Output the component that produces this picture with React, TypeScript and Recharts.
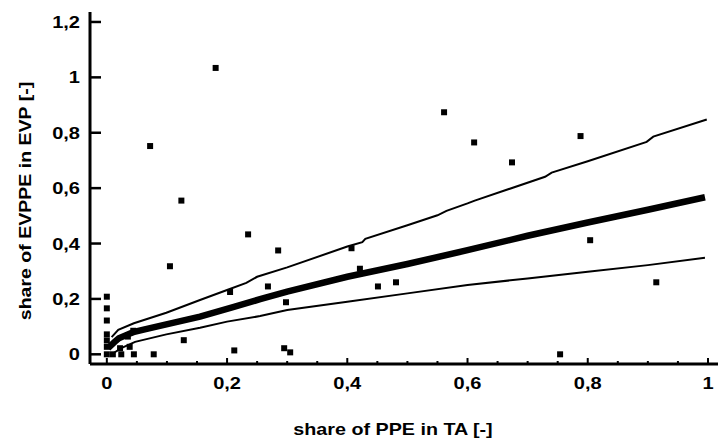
import { ComposedChart, Scatter, Line, XAxis, YAxis, ZAxis, Label } from "recharts";

// observed firms: share of PPE in total assets vs share of EVPPE in EVP
const ppeShare = [
  0.0, 0.0, 0.0, 0.0, 0.0, 0.0, 0.0, 0.01, 0.022, 0.024, 0.035, 0.038, 0.044, 0.045,
  0.072, 0.078, 0.105, 0.124, 0.128, 0.181, 0.205, 0.212, 0.235, 0.268, 0.285, 0.295,
  0.298, 0.305, 0.407, 0.421, 0.451, 0.481, 0.561, 0.611, 0.674, 0.754, 0.788, 0.804, 0.914,
];
const evppeShare = [
  0.208, 0.166, 0.122, 0.072, 0.05, 0.027, 0.0, 0.0, 0.022, 0.0, 0.064, 0.027, 0.085, 0.0,
  0.752, 0.0, 0.318, 0.555, 0.051, 1.034, 0.225, 0.014, 0.433, 0.245, 0.375, 0.022,
  0.188, 0.007, 0.383, 0.309, 0.245, 0.26, 0.874, 0.765, 0.693, 0.0, 0.788, 0.412, 0.26,
];

// fitted curve
const fitX = [0.002, 0.013, 0.02, 0.035, 0.044, 0.063, 0.099, 0.155, 0.21, 0.255, 0.3, 0.4, 0.5, 0.6, 0.7, 0.8, 0.9, 0.995];
const fitY = [0.022, 0.045, 0.058, 0.072, 0.08, 0.09, 0.108, 0.136, 0.17, 0.199, 0.226, 0.28, 0.326, 0.376, 0.428, 0.476, 0.522, 0.567];

// upper band
const upperX = [
  0.008, 0.019, 0.045, 0.099, 0.155, 0.2, 0.232, 0.25, 0.3, 0.4, 0.425, 0.43,
  0.5, 0.55, 0.565, 0.6, 0.612, 0.729, 0.74, 0.8, 0.898, 0.909, 0.998,
];
const upperY = [
  0.062, 0.088, 0.112, 0.15, 0.196, 0.232, 0.258, 0.28, 0.314, 0.389, 0.405, 0.417,
  0.466, 0.502, 0.518, 0.545, 0.555, 0.641, 0.656, 0.697, 0.767, 0.786, 0.848,
];

// lower band
const lowerX = [0.01, 0.024, 0.047, 0.099, 0.155, 0.2, 0.255, 0.3, 0.4, 0.5, 0.6, 0.7, 0.8, 0.9, 0.995];
const lowerY = [0.003, 0.022, 0.045, 0.072, 0.096, 0.118, 0.138, 0.16, 0.19, 0.22, 0.25, 0.274, 0.298, 0.322, 0.349];

const xTicks = [0, 0.05, 0.1, 0.15, 0.2, 0.25, 0.3, 0.35, 0.4, 0.45, 0.5, 0.55, 0.6, 0.65, 0.7, 0.75, 0.8, 0.85, 0.9, 0.95, 1];
const yTicks = [0, 0.2, 0.4, 0.6, 0.8, 1, 1.2];

const zip = (xs: number[], ys: number[]) => xs.map((x, i) => ({ x, y: ys[i] }));
const points = zip(ppeShare, evppeShare);
const fit = zip(fitX, fitY);
const upper = zip(upperX, upperY);
const lower = zip(lowerX, lowerY);

const textStyle = { fontFamily: "'Liberation Sans', Arial, sans-serif", fontWeight: 700, fontSize: 17 };
const fmt = (v: number) => String(Math.round(v * 100) / 100).replace(".", ",");
const isMajor = (v: number) => Math.abs(v * 5 - Math.round(v * 5)) < 1e-6;

const BottomTick = ({ x, y, payload }: any) => {
  const major = isMajor(payload.value);
  return (
    <g>
      <line x1={x} x2={x} y1={y} y2={y - (major ? 6 : 3)} stroke="#000" strokeWidth={2} />
      {major && (
        <text transform={`translate(${x},${y + 25}) scale(1.18,1)`} textAnchor="middle" style={textStyle} fill="#000">
          {fmt(payload.value)}
        </text>
      )}
    </g>
  );
};

const TopTick = ({ x, y, payload }: any) => {
  const major = isMajor(payload.value);
  return <line x1={x} x2={x} y1={y} y2={y + (major ? 6 : 3)} stroke="#000" strokeWidth={2} />;
};

const LeftTick = ({ x, y, payload }: any) => (
  <g>
    <line x1={x} x2={x + 11} y1={y} y2={y} stroke="#000" strokeWidth={2.5} />
    <text transform={`translate(${x - 10},${y + 6}) scale(1.18,1)`} textAnchor="end" style={textStyle} fill="#000">
      {fmt(payload.value)}
    </text>
  </g>
);

const RightTick = ({ x, y }: any) => (
  <line x1={x} x2={x - 7} y1={y} y2={y} stroke="#000" strokeWidth={2.5} />
);

const XTitle = () => (
  <text transform="translate(393,435) scale(1.16,1)" textAnchor="middle" style={textStyle} fill="#000">
    share of PPE in TA [-]
  </text>
);

const YTitle = () => (
  <text transform="translate(31,201) rotate(-90) scale(1.15,1)" textAnchor="middle" style={textStyle} fill="#000">
    share of EVPPE in EVP [-]
  </text>
);

const axisLine = { stroke: "#000", strokeWidth: 3 };

export default function App() {
  return (
    <div style={{ position: "absolute", left: 0, top: 0, width: 718, height: 441, overflow: "hidden", background: "#fff" }}>
      <ComposedChart width={730} height={441} margin={{ top: 12, right: 10, bottom: 0, left: 0 }}>
        <XAxis
          xAxisId="b"
          type="number"
          dataKey="x"
          domain={[-0.028, 1.02]}
          allowDataOverflow
          ticks={xTicks}
          interval={0}
          tickSize={0}
          tickMargin={0}
          height={77}
          axisLine={axisLine}
          tickLine={false}
          tick={<BottomTick />}
        >
          <Label content={<XTitle />} />
        </XAxis>
        <XAxis
          xAxisId="t"
          orientation="top"
          type="number"
          domain={[-0.028, 1.02]}
          allowDataOverflow
          ticks={xTicks}
          interval={0}
          tickSize={0}
          tickMargin={0}
          height={0}
          axisLine={axisLine}
          tickLine={false}
          tick={<TopTick />}
        />
        <YAxis
          yAxisId="l"
          type="number"
          dataKey="y"
          domain={[-0.035, 1.236]}
          allowDataOverflow
          ticks={yTicks}
          interval={0}
          tickSize={0}
          tickMargin={0}
          width={90}
          axisLine={axisLine}
          tickLine={false}
          tick={<LeftTick />}
        >
          <Label content={<YTitle />} />
        </YAxis>
        <YAxis
          yAxisId="r"
          orientation="right"
          type="number"
          domain={[-0.035, 1.236]}
          allowDataOverflow
          ticks={yTicks}
          interval={0}
          tickSize={0}
          tickMargin={0}
          width={0}
          axisLine={axisLine}
          tickLine={false}
          tick={<RightTick />}
        />
        <ZAxis range={[36, 36]} />
        <Line
          xAxisId="b"
          yAxisId="l"
          data={upper}
          dataKey="y"
          type="linear"
          stroke="#000"
          strokeWidth={2}
          dot={false}
          isAnimationActive={false}
        />
        <Line
          xAxisId="b"
          yAxisId="l"
          data={lower}
          dataKey="y"
          type="linear"
          stroke="#000"
          strokeWidth={2}
          dot={false}
          isAnimationActive={false}
        />
        <Line
          xAxisId="b"
          yAxisId="l"
          data={fit}
          dataKey="y"
          type="linear"
          stroke="#000"
          strokeWidth={6.5}
          dot={false}
          isAnimationActive={false}
        />
        <Scatter
          xAxisId="b"
          yAxisId="l"
          data={points}
          dataKey="y"
          shape="square"
          fill="#000"
          isAnimationActive={false}
        />
      </ComposedChart>
    </div>
  );
}
